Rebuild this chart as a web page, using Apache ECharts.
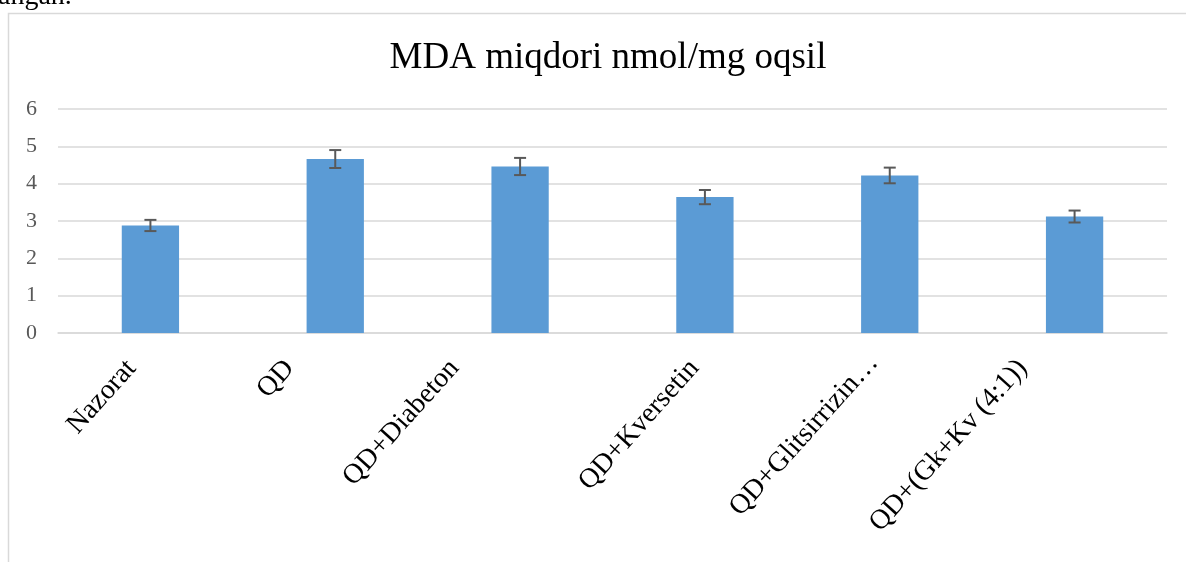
<!DOCTYPE html>
<html lang="uz">
<head>
<meta charset="UTF-8">
<title>MDA miqdori</title>
<script src="https://cdn.jsdelivr.net/npm/echarts@6/dist/echarts.min.js"></script>
</head>
<body style="margin:0;background:#fff;">
<div id="main" style="width:1186px;height:562px;"></div>
<script type="text/javascript">
// guruhlar va qiymatlar
var categories = ['Nazorat', 'QD', 'QD+Diabeton', 'QD+Kversetin', 'QD+Glitsirrizin\u2026', 'QD+(Gk+Kv (4:1))'];
var mdaValues = [2.88, 4.66, 4.46, 3.64, 4.22, 3.12];
var mdaErrors = [0.15, 0.24, 0.23, 0.19, 0.21, 0.16];
var yTicks = [0, 1, 2, 3, 4, 5, 6];

// qiya yozuvlarni surish (padding: right, bottom)
var labelPad = [[6, 6], [24, 26], [37, 41], [0, 0], [0, 8], [28, 31]];

var serif = '"Liberation Serif", "Times New Roman", serif';
var myChart = echarts.init(document.getElementById('main'));

var errData = mdaValues.map(function (v, i) {
    return [i, v - mdaErrors[i], v + mdaErrors[i]];
});

var catData = categories.map(function (c, i) {
    return {
        value: c,
        textStyle: { verticalAlign: 'bottom', padding: [0, labelPad[i][0], labelPad[i][1], 0] }
    };
});

var option = {
    animation: false,
    backgroundColor: '#fff',
    title: {
        text: 'MDA miqdori nmol/mg oqsil',
        left: 603,
        textAlign: 'center',
        top: 35,
        textStyle: { fontFamily: serif, fontSize: 37, fontWeight: 'normal', color: '#000' }
    },
    graphic: [
        {
            type: 'rect',
            shape: { x: 8.5, y: 13.5, width: 1300, height: 700 },
            style: { fill: 'none', stroke: '#d9d9d9', lineWidth: 1.5 },
            silent: true
        },
        {
            type: 'text',
            left: -2,
            top: -17,
            style: { text: 'angan.', font: '28px ' + serif, fill: '#000' },
            silent: true
        }
    ],
    grid: { left: 58, right: 19, top: 109, bottom: 229, outerBoundsMode: 'none' },
    xAxis: {
        type: 'category',
        data: catData,
        axisLine: { lineStyle: { color: '#d9d9d9', width: 1.5 } },
        axisTick: { show: false },
        axisLabel: {
            rotate: 48,
            interval: 0,
            margin: 40,
            verticalAlign: 'bottom',
            lineHeight: 28,
            fontFamily: serif,
            fontSize: 28,
            color: '#000'
        }
    },
    yAxis: {
        type: 'value',
        min: 0,
        max: yTicks[yTicks.length - 1],
        interval: 1,
        axisLine: { show: false },
        axisTick: { show: false },
        splitLine: { lineStyle: { color: '#d9d9d9', width: 1.5 } },
        axisLabel: { fontFamily: serif, fontSize: 22, color: '#595959', margin: 21 }
    },
    series: [
        {
            type: 'bar',
            data: mdaValues,
            barWidth: '31%',
            itemStyle: { color: '#5b9bd5' }
        },
        {
            type: 'custom',
            data: errData,
            z: 10,
            renderItem: function (params, api) {
                var lo = api.coord([api.value(0), api.value(1)]);
                var hi = api.coord([api.value(0), api.value(2)]);
                var w = 6;
                var st = { stroke: '#595959', lineWidth: 2 };
                return {
                    type: 'group',
                    children: [
                        { type: 'line', shape: { x1: hi[0], y1: hi[1], x2: lo[0], y2: lo[1] }, style: st },
                        { type: 'line', shape: { x1: hi[0] - w, y1: hi[1], x2: hi[0] + w, y2: hi[1] }, style: st },
                        { type: 'line', shape: { x1: lo[0] - w, y1: lo[1], x2: lo[0] + w, y2: lo[1] }, style: st }
                    ]
                };
            }
        }
    ]
};

myChart.setOption(option);
</script>
</body>
</html>
